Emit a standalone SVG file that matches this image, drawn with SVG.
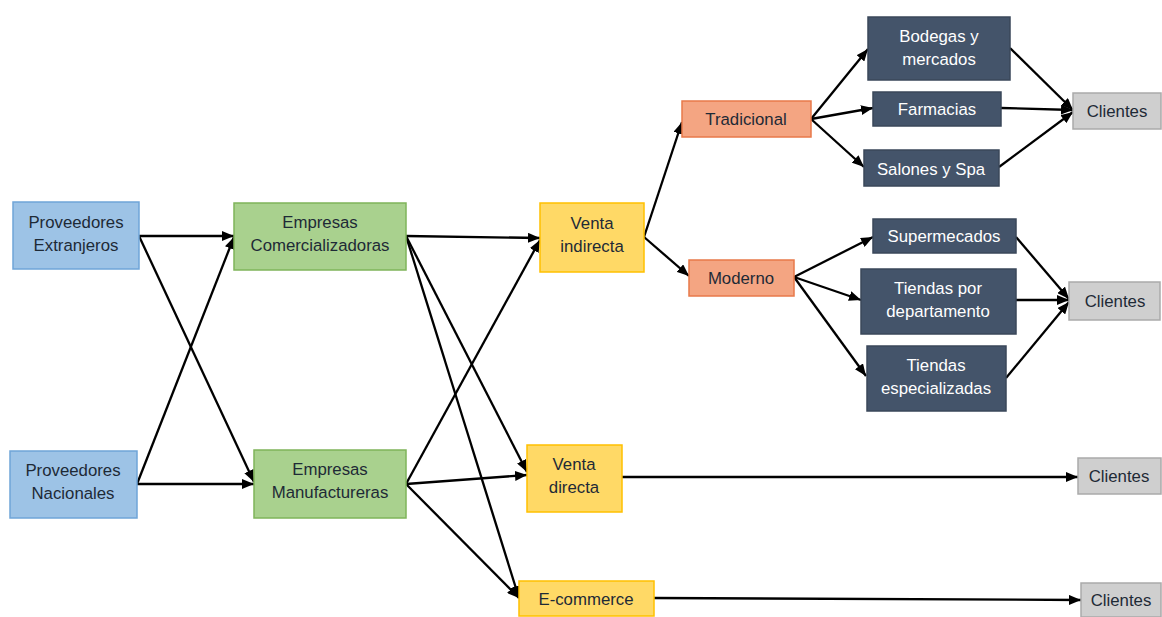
<svg xmlns="http://www.w3.org/2000/svg" width="1162" height="617" viewBox="0 0 1162 617">
  <defs>
    <marker id="arrow" viewBox="0 0 12 10" refX="12" refY="5" markerWidth="12" markerHeight="10" markerUnits="userSpaceOnUse" orient="auto">
      <path d="M0,0 L12,5 L0,10 z" fill="#000"/>
    </marker>
    <style>
      text { font-family: "Liberation Sans", Arial, sans-serif; font-size: 16.8px; text-anchor: middle; fill: #1e2a36; }
      .light text { fill: #ffffff; }
      .blue { fill: #9dc3e6; stroke: #6fa5d8; stroke-width: 1.5; }
      .green { fill: #a9d18e; stroke: #7fb45a; stroke-width: 1.5; }
      .yellow { fill: #ffd966; stroke: #ffc000; stroke-width: 1.5; }
      .orange { fill: #f4a582; stroke: #e8794a; stroke-width: 1.5; }
      .navy { fill: #44546a; stroke: #3a475a; stroke-width: 1.5; }
      .gray { fill: #cfcfcf; stroke: #aaaaaa; stroke-width: 1.5; }
      #connectors line { stroke: #000; stroke-width: 2.3; fill: none; marker-end: url(#arrow); }
    </style>
  </defs>
  <rect width="1162" height="617" fill="#ffffff"/>

  <!-- connectors -->
  <g id="connectors">
    <line x1="139" y1="236" x2="234" y2="236"/>
    <line x1="139" y1="236" x2="254" y2="482"/>
    <line x1="137" y1="484" x2="234" y2="237"/>
    <line x1="137" y1="484" x2="254" y2="484"/>
    <line x1="406" y1="236" x2="540" y2="238"/>
    <line x1="406" y1="236" x2="527" y2="472"/>
    <line x1="406" y1="236" x2="519" y2="598"/>
    <line x1="406" y1="484" x2="540" y2="240"/>
    <line x1="406" y1="484" x2="527" y2="475"/>
    <line x1="406" y1="484" x2="519" y2="598"/>
    <line x1="644" y1="237" x2="682" y2="122"/>
    <line x1="644" y1="237" x2="689" y2="276"/>
    <line x1="811" y1="119" x2="868" y2="49"/>
    <line x1="811" y1="119" x2="873" y2="108"/>
    <line x1="811" y1="119" x2="864" y2="167"/>
    <line x1="1010" y1="48" x2="1073" y2="110"/>
    <line x1="1001" y1="108" x2="1073" y2="110"/>
    <line x1="999" y1="167" x2="1073" y2="112"/>
    <line x1="794" y1="277" x2="873" y2="237"/>
    <line x1="794" y1="277" x2="861" y2="300"/>
    <line x1="794" y1="277" x2="866" y2="376"/>
    <line x1="1016" y1="237" x2="1069" y2="299"/>
    <line x1="1016" y1="300" x2="1069" y2="300"/>
    <line x1="1006" y1="378" x2="1069" y2="302"/>
    <line x1="622" y1="477" x2="1078" y2="477"/>
    <line x1="654" y1="598" x2="1081" y2="600"/>
  </g>

  <!-- suppliers -->
  <g id="proveedores-extranjeros">
    <rect class="blue" x="13" y="202" width="126" height="67"/>
    <text x="76" y="228">Proveedores</text>
    <text x="76" y="251">Extranjeros</text>
  </g>
  <g id="proveedores-nacionales">
    <rect class="blue" x="10" y="451" width="127" height="67"/>
    <text x="73" y="476">Proveedores</text>
    <text x="73" y="499">Nacionales</text>
  </g>

  <!-- companies -->
  <g id="empresas-comercializadoras">
    <rect class="green" x="234" y="203" width="172" height="67"/>
    <text x="320" y="228">Empresas</text>
    <text x="320" y="251">Comercializadoras</text>
  </g>
  <g id="empresas-manufactureras">
    <rect class="green" x="254" y="450" width="152" height="68"/>
    <text x="330" y="475">Empresas</text>
    <text x="330" y="498">Manufactureras</text>
  </g>

  <!-- sales channels -->
  <g id="venta-indirecta">
    <rect class="yellow" x="540" y="203" width="104" height="69"/>
    <text x="592" y="229">Venta</text>
    <text x="592" y="252">indirecta</text>
  </g>
  <g id="venta-directa">
    <rect class="yellow" x="527" y="445" width="95" height="67"/>
    <text x="574" y="470">Venta</text>
    <text x="574" y="493">directa</text>
  </g>
  <g id="e-commerce">
    <rect class="yellow" x="519" y="581" width="135" height="35"/>
    <text x="586" y="605">E-commerce</text>
  </g>

  <!-- indirect channel types -->
  <g id="tradicional">
    <rect class="orange" x="682" y="101" width="129" height="36"/>
    <text x="746" y="125">Tradicional</text>
  </g>
  <g id="moderno">
    <rect class="orange" x="689" y="260" width="105" height="36"/>
    <text x="741" y="284">Moderno</text>
  </g>

  <!-- points of sale -->
  <g id="bodegas-mercados" class="light">
    <rect class="navy" x="868" y="17" width="142" height="63"/>
    <text x="939" y="42">Bodegas y</text>
    <text x="939" y="65">mercados</text>
  </g>
  <g id="farmacias" class="light">
    <rect class="navy" x="873" y="92" width="128" height="34"/>
    <text x="937" y="115">Farmacias</text>
  </g>
  <g id="salones-spa" class="light">
    <rect class="navy" x="864" y="150" width="135" height="36"/>
    <text x="931" y="175">Salones y Spa</text>
  </g>
  <g id="supermercados" class="light">
    <rect class="navy" x="873" y="219" width="143" height="34"/>
    <text x="944" y="242">Supermecados</text>
  </g>
  <g id="tiendas-departamento" class="light">
    <rect class="navy" x="861" y="269" width="155" height="65"/>
    <text x="938" y="294">Tiendas por</text>
    <text x="938" y="317">departamento</text>
  </g>
  <g id="tiendas-especializadas" class="light">
    <rect class="navy" x="867" y="346" width="139" height="65"/>
    <text x="936" y="371">Tiendas</text>
    <text x="936" y="394">especializadas</text>
  </g>

  <!-- customers -->
  <g id="clientes-tradicional">
    <rect class="gray" x="1073" y="93" width="88" height="36"/>
    <text x="1117" y="117">Clientes</text>
  </g>
  <g id="clientes-moderno">
    <rect class="gray" x="1069" y="282" width="91" height="38"/>
    <text x="1115" y="307">Clientes</text>
  </g>
  <g id="clientes-directa">
    <rect class="gray" x="1078" y="458" width="83" height="36"/>
    <text x="1119" y="482">Clientes</text>
  </g>
  <g id="clientes-ecommerce">
    <rect class="gray" x="1081" y="583" width="80" height="34"/>
    <text x="1121" y="606">Clientes</text>
  </g>
</svg>
